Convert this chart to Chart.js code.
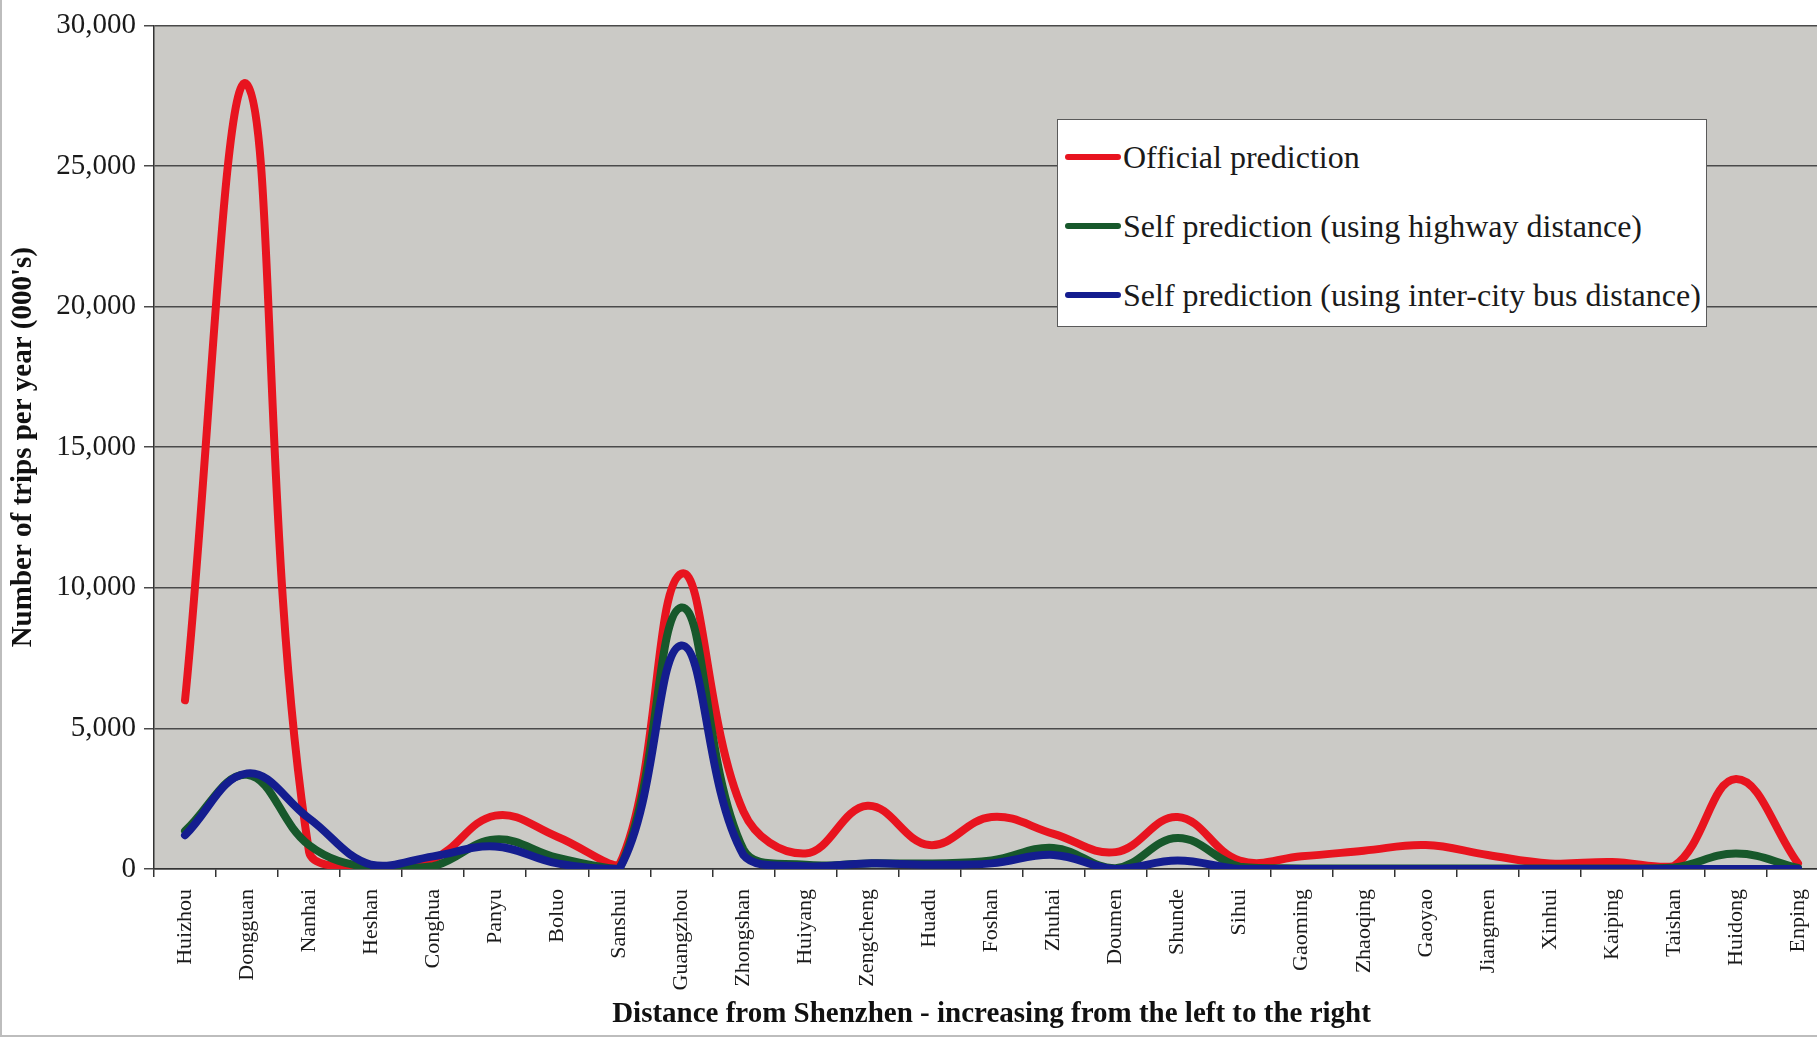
<!DOCTYPE html>
<html>
<head>
<meta charset="utf-8">
<script src="https://cdn.jsdelivr.net/npm/chart.js@4.4.1/dist/chart.umd.min.js"></script>
<style>
  html, body { margin: 0; padding: 0; background: #fff; overflow: hidden; width: 1817px; height: 1037px; }
  #wrap { position: absolute; left: 0; top: 0; width: 1850px; height: 1037px; }
  #frame { position: absolute; left: 0; top: 0; width: 1815px; height: 1035px;
           border-left: 2px solid #bdbdbd; border-bottom: 2px solid #bdbdbd; pointer-events: none; }
  #legend { position: absolute; left: 1057px; top: 119px; width: 648px; height: 206px;
            background: #fff; border: 1.5px solid #5a5a5a;
            font-family: "Liberation Serif", "Times New Roman", serif; font-size: 32px; color: #1a1a1a; }
  #legend .row { position: absolute; left: 0; height: 40px; display: flex; align-items: center; white-space: nowrap; }
  #legend .swatch { width: 56px; height: 6px; border-radius: 3px; margin-left: 7px; margin-right: 2px; }
</style>
</head>
<body>
<div id="wrap"><canvas id="chart" width="1850" height="1037"></canvas></div>
<div id="legend"></div>
<div id="frame"></div>
<script>
// Cities ordered by distance from Shenzhen
const cities = ["Huizhou", "Dongguan", "Nanhai", "Heshan", "Conghua", "Panyu", "Boluo", "Sanshui",
  "Guangzhou", "Zhongshan", "Huiyang", "Zengcheng", "Huadu", "Foshan", "Zhuhai", "Doumen", "Shunde",
  "Sihui", "Gaoming", "Zhaoqing", "Gaoyao", "Jiangmen", "Xinhui", "Kaiping", "Taishan", "Huidong", "Enping"];

// Trips per year (000's)
const officialPrediction = [6000, 27900, 600, 50, 350, 1900, 1150, 150,
  10500, 2050, 550, 2250, 850, 1850, 1250, 600, 1850,
  300, 450, 650, 850, 500, 200, 250, 100, 3200, 200];
const highwayPrediction = [1350, 3350, 850, 30, 100, 1050, 400, 0,
  9300, 700, 150, 200, 200, 300, 750, 30, 1100,
  80, 20, 20, 20, 20, 20, 20, 50, 550, 40];
const busPrediction = [1200, 3400, 1800, 150, 450, 800, 200, 0,
  7950, 500, 100, 200, 150, 200, 500, 0, 300,
  0, 0, 0, 0, 0, 0, 0, 0, 0, 0];

const yTickValues = [0, 5000, 10000, 15000, 20000, 25000, 30000];

const seriesNames = ["Official prediction",
  "Self prediction (using highway distance)",
  "Self prediction (using inter-city bus distance)"];
const seriesColors = ["#e8141f", "#17582b", "#141d8f"];

const serif = "'Liberation Serif', 'Times New Roman', serif";

// Grey plotting area behind the lines
const plotBackground = {
  id: 'plotBackground',
  beforeDraw(chart) {
    const { ctx, chartArea: a } = chart;
    ctx.save();
    ctx.fillStyle = '#cbcac6';
    ctx.fillRect(a.left, a.top, a.right - a.left, a.bottom - a.top);
    ctx.restore();
  }
};

const datasets = [officialPrediction, highwayPrediction, busPrediction].map((values, i) => ({
  label: seriesNames[i],
  data: values,
  borderColor: seriesColors[i],
  backgroundColor: seriesColors[i],
  borderWidth: 8,
  pointRadius: 0,
  tension: 0.4,
  fill: false,
  borderCapStyle: 'round',
  borderJoinStyle: 'round',
  order: 3 - i
}));

const chart = new Chart(document.getElementById('chart'), {
  type: 'line',
  data: { labels: cities, datasets },
  plugins: [plotBackground],
  options: {
    responsive: false,
    animation: false,
    locale: 'en-US',
    layout: { padding: { left: 0, top: 24, right: 21, bottom: 0 } },
    plugins: { legend: { display: false }, tooltip: { enabled: false } },
    scales: {
      x: {
        type: 'category',
        offset: true,
        grid: { offset: true, drawOnChartArea: false, drawTicks: true, tickLength: 8, color: '#333', lineWidth: 1.5 },
        border: { color: '#333', width: 1.5 },
        ticks: {
          autoSkip: false, minRotation: 90, maxRotation: 90, padding: 12,
          font: { family: serif, size: 22 }, color: '#1a1a1a'
        },
        title: {
          display: true,
          text: 'Distance from Shenzhen - increasing from the left to the right',
          font: { family: serif, size: 29, weight: 'bold' }, color: '#111',
          padding: { top: 0, bottom: 5 }
        },
        afterFit(scale) { scale.height = 168; }
      },
      y: {
        min: 0, max: 30000,
        afterBuildTicks(scale) { scale.ticks = yTickValues.map(v => ({ value: v })); },
        ticks: { padding: 8, font: { family: serif, size: 29 }, color: '#1a1a1a' },
        grid: { color: '#4a4a4a', lineWidth: 1.5, tickLength: 10 },
        border: { color: '#333', width: 1.5 },
        title: {
          display: true,
          text: "Number of trips per year (000's)",
          font: { family: serif, size: 29, weight: 'bold' }, color: '#111',
          padding: { top: 6, bottom: 0 }
        },
        afterFit(scale) { scale.width = 154; }
      }
    }
  }
});

// Boxed legend inside the plot
const legend = document.getElementById('legend');
const rowTops = [17, 86, 155];
chart.data.datasets.forEach((ds, i) => {
  const row = document.createElement('div');
  row.className = 'row';
  row.style.top = rowTops[i] + 'px';
  const sw = document.createElement('span');
  sw.className = 'swatch';
  sw.style.background = ds.borderColor;
  const txt = document.createElement('span');
  txt.textContent = ds.label;
  row.appendChild(sw);
  row.appendChild(txt);
  legend.appendChild(row);
});
</script>
</body>
</html>
